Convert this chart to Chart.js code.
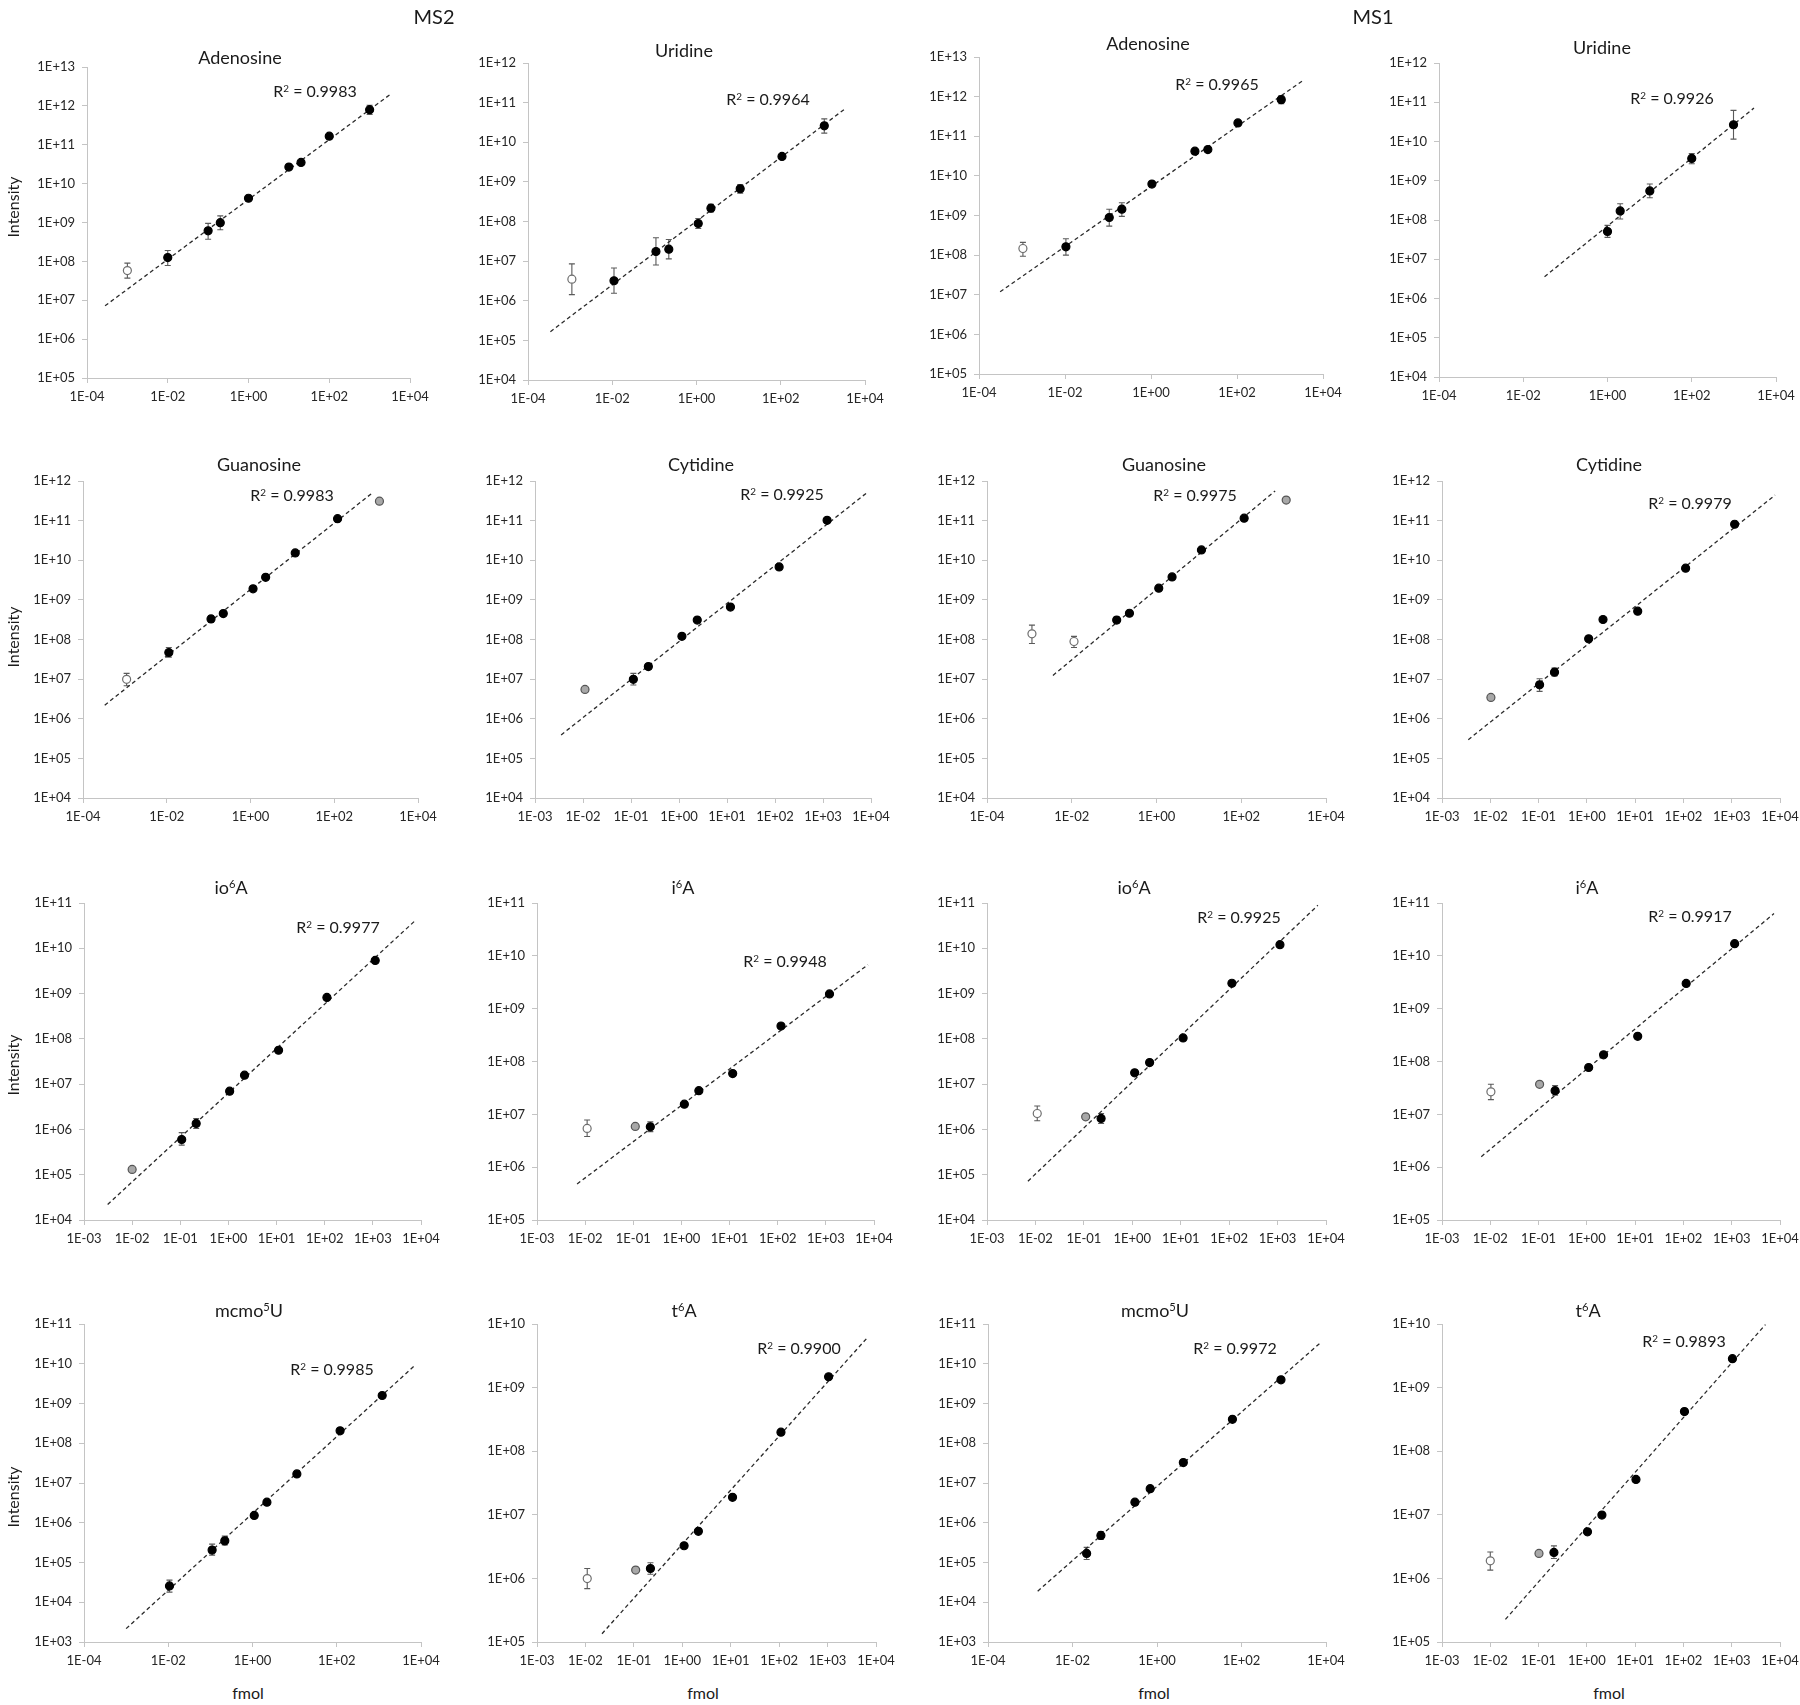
<!DOCTYPE html>
<html>
<head>
<meta charset="utf-8">
<script src="https://cdn.jsdelivr.net/npm/chart.js@4.4.1/dist/chart.umd.min.js"></script>
<style>
  body { margin: 0; background: #fff; }
  #page { position: relative; width: 1800px; height: 1705px; font-family: Lato, 'Open Sans', sans-serif; color: #1a1a1a; overflow: hidden; }
  canvas { position: absolute; }
  .txt { position: absolute; transform: translate(-50%, -50%); white-space: nowrap; line-height: 1; }
  .title { font-size: 18px; }
  .r2 { font-size: 16px; }
  .head { font-size: 20px; }
  .axt { font-size: 16px; }
  .ylab { transform: translate(-50%, -50%) rotate(-90deg); }
  sup { font-size: 0.62em; vertical-align: 0.55em; line-height: 0; }
</style>
</head>
<body>
<div id="page"></div>
<script>
  // パネル順: MS2 (左2列) / MS1 (右2列)、上から Adenosine/Uridine, Guanosine/Cytidine, io6A/i6A, mcmo5U/t6A
  const TITLES = [
    'Adenosine', 'Uridine', 'Adenosine', 'Uridine',
    'Guanosine', 'Cytidine', 'Guanosine', 'Cytidine',
    'io<sup>6</sup>A', 'i<sup>6</sup>A', 'io<sup>6</sup>A', 'i<sup>6</sup>A',
    'mcmo<sup>5</sup>U', 't<sup>6</sup>A', 'mcmo<sup>5</sup>U', 't<sup>6</sup>A',
  ];

  const R2 = [
    '0.9983', '0.9964', '0.9965', '0.9926',
    '0.9983', '0.9925', '0.9975', '0.9979',
    '0.9977', '0.9948', '0.9925', '0.9917',
    '0.9985', '0.9900', '0.9972', '0.9893',
  ];

  // 目盛り (10の累乗の指数と刻み)
  const X_TICK_EXP = [
    [-4, 4], [-4, 4], [-4, 4], [-4, 4],
    [-4, 4], [-3, 4], [-4, 4], [-3, 4],
    [-3, 4], [-3, 4], [-3, 4], [-3, 4],
    [-4, 4], [-3, 4], [-4, 4], [-3, 4],
  ];
  const X_TICK_STEP = [2, 2, 2, 2, 2, 1, 2, 1, 1, 1, 1, 1, 2, 1, 2, 1];
  const Y_TICK_EXP = [
    [5, 13], [4, 12], [5, 13], [4, 12],
    [4, 12], [4, 12], [4, 12], [4, 12],
    [4, 11], [5, 11], [4, 11], [5, 11],
    [3, 11], [5, 10], [3, 11], [5, 10],
  ];

  // fmol
  const FMOL = [
    [0.001, 0.01, 0.1, 0.2, 1, 10, 20, 100, 1000],
    [0.0011, 0.011, 0.109, 0.22, 1.1, 2.2, 10.9, 107, 1080],
    [0.00105, 0.0105, 0.107, 0.21, 1.05, 10.5, 21, 105, 1070],
    [1.0, 2.0, 10.1, 100, 980],
    [0.0011, 0.0112, 0.114, 0.224, 1.15, 2.3, 11.7, 120, 1200],
    [0.011, 0.112, 0.23, 1.15, 2.4, 11.8, 122, 1217],
    [0.00115, 0.0113, 0.115, 0.23, 1.13, 2.33, 11.5, 117, 1150],
    [0.0103, 0.105, 0.214, 1.09, 2.16, 11.3, 111, 1150],
    [0.01, 0.107, 0.214, 1.06, 2.16, 11, 111, 1120],
    [0.011, 0.11, 0.226, 1.15, 2.3, 11.6, 117, 1190],
    [0.0109, 0.109, 0.227, 1.12, 2.28, 11.2, 114, 1120],
    [0.0103, 0.105, 0.22, 1.09, 2.22, 11.3, 114, 1150],
    [0.0107, 0.11, 0.22, 1.1, 2.2, 11.3, 120, 1200],
    [0.0109, 0.109, 0.22, 1.09, 2.15, 10.9, 109, 1050],
    [0.0216, 0.047, 0.30, 0.69, 4.2, 61, 860],
    [0.01, 0.102, 0.208, 1.03, 2.05, 10.4, 105, 1035],
  ];

  // Intensity
  const INTENSITY = [
    [5.8e7, 1.25e8, 6.1e8, 9.9e8, 4.2e9, 2.66e10, 3.5e10, 1.66e11, 8.0e11],
    [3.5e6, 3.2e6, 1.75e7, 2.0e7, 8.9e7, 2.17e8, 6.7e8, 4.4e9, 2.6e10],
    [1.47e8, 1.62e8, 8.9e8, 1.44e9, 6.2e9, 4.2e10, 4.6e10, 2.17e11, 8.4e11],
    [5.1e7, 1.7e8, 5.5e8, 3.7e9, 2.67e10],
    [9.9e6, 4.7e7, 3.3e8, 4.5e8, 1.9e9, 3.7e9, 1.53e10, 1.12e11, 3.1e11],
    [5.5e6, 9.9e6, 2.07e7, 1.2e8, 3.1e8, 6.6e8, 6.8e9, 1.02e11],
    [1.39e8, 8.9e7, 3.1e8, 4.6e8, 1.97e9, 3.8e9, 1.82e10, 1.15e11, 3.3e11],
    [3.45e6, 7.2e6, 1.5e7, 1.04e8, 3.2e8, 5.2e8, 6.3e9, 8.1e10],
    [1.31e5, 6.0e5, 1.36e6, 7.0e6, 1.58e7, 5.6e7, 8.2e8, 5.4e9],
    [5.4e6, 5.9e6, 5.8e6, 1.56e7, 2.8e7, 5.9e7, 4.7e8, 1.9e9],
    [2.25e6, 1.9e6, 1.75e6, 1.78e7, 3.0e7, 1.05e8, 1.69e9, 1.2e10],
    [2.67e7, 3.7e7, 2.8e7, 7.7e7, 1.34e8, 3.0e8, 3.0e9, 1.7e10],
    [2.58e4, 2.05e5, 3.5e5, 1.53e6, 3.3e6, 1.69e7, 2.05e8, 1.59e9],
    [9.95e5, 1.35e6, 1.43e6, 3.26e6, 5.5e6, 1.88e7, 1.99e8, 1.48e9],
    [1.69e5, 4.8e5, 3.3e6, 7.2e6, 3.26e7, 4.0e8, 3.95e9],
    [1.89e6, 2.47e6, 2.56e6, 5.4e6, 9.9e6, 3.6e7, 4.2e8, 2.85e9],
  ];

  // エラーバー (下端 / 上端)、null はバーなし
  const ERR_LOW = [
    [3.7e7, 7.8e7, 3.7e8, 6.5e8, null, null, null, null, 6.0e11],
    [1.43e6, 1.55e6, 8e6, 1.14e7, 6.65e7, 1.75e8, 5.2e8, null, 1.7e10],
    [9.4e7, 1.0e8, 5.4e8, 9.5e8, null, null, null, null, 6.6e11],
    [3.6e7, 1.06e8, 3.7e8, 2.7e9, 1.15e10],
    [6.8e6, 3.6e7, 2.7e8, null, null, null, null, null, null],
    [null, 7.1e6, 1.75e7, null, null, null, null, null],
    [7.9e7, 6.3e7, 2.6e8, null, null, null, null, null, null],
    [null, 4.9e6, 1.2e7, null, null, null, null, null],
    [null, 4.5e5, 1.05e6, null, null, null, null, null],
    [3.8e6, null, 4.7e6, null, null, null, null, null],
    [1.55e6, null, 1.35e6, null, null, null, null, null],
    [1.9e7, null, 2.3e7, null, null, null, null, null],
    [1.8e4, 1.53e5, 2.75e5, null, null, null, null, null],
    [6.9e5, null, 1.16e6, null, null, null, null, null],
    [1.19e5, 3.8e5, null, null, null, null, null],
    [1.35e6, null, 2.05e6, null, null, null, null, null],
  ];
  const ERR_HIGH = [
    [9.0e7, 1.9e8, 9.5e8, 1.48e9, null, null, null, null, 1.04e12],
    [8.5e6, 6.7e6, 3.9e7, 3.5e7, 1.19e8, 2.7e8, 8.5e8, null, 3.9e10],
    [2.1e8, 2.6e8, 1.44e9, 2.1e9, null, null, null, null, 1.05e12],
    [7.3e7, 2.6e8, 8.3e8, 4.9e9, 6.2e10],
    [1.4e7, 6.3e7, 4.0e8, null, null, null, null, null, null],
    [null, 1.4e7, 2.4e7, null, null, null, null, null],
    [2.3e8, 1.2e8, 3.7e8, null, null, null, null, null, null],
    [null, 1.02e7, 1.9e7, null, null, null, null, null],
    [null, 8.5e5, 1.74e6, null, null, null, null, null],
    [7.8e6, null, 7.2e6, null, null, null, null, null],
    [3.3e6, null, 2.25e6, null, null, null, null, null],
    [3.7e7, null, 3.5e7, null, null, null, null, null],
    [3.6e4, 2.9e5, 4.6e5, null, null, null, null, null],
    [1.43e6, null, 1.76e6, null, null, null, null, null],
    [2.4e5, 6.0e5, null, null, null, null, null],
    [2.6e6, null, 3.25e6, null, null, null, null, null],
  ];

  // 点の種類: f = 黒塗り, o = 白抜き, g = 灰色 (近似から除外)
  const POINT_KIND = [
    'offffffff', 'offffffff', 'offffffff', 'fffff',
    'offfffffg', 'gfffffff', 'ooffffffg', 'gfffffff',
    'gfffffff', 'ogffffff', 'ogffffff', 'ogffffff',
    'ffffffff', 'ogffffff', 'fffffff', 'ogffffff',
  ];

  // 近似直線の両端
  const TREND_X = [
    [2.8e-4, 3200], [3.4e-4, 3550], [3.1e-4, 3700], [0.032, 3000],
    [3.3e-4, 810], [0.0035, 8100], [0.0036, 631], [0.0035, 7900],
    [0.0031, 7600], [0.0068, 7500], [0.007, 6800], [0.0065, 7500],
    [0.001, 7400], [0.022, 6500], [0.0015, 7200], [0.0206, 5000],
  ];
  const TREND_Y = [
    [7.2e6, 1.95e12], [1.66e5, 7.3e10], [1.19e7, 2.7e12], [3.6e6, 7.1e10],
    [2.2e6, 5.0e11], [3.9e5, 5.0e11], [1.24e7, 5.6e11], [2.96e5, 4.4e11],
    [2.2e4, 4.1e10], [4.8e5, 6.8e9], [7.2e4, 8.9e10], [1.58e6, 6.3e10],
    [2.17e3, 9.4e9], [1.35e5, 6.0e9], [1.9e4, 3.3e10], [2.27e5, 9.8e9],
  ];

  // レイアウト (プロット領域 left, top, right, bottom)
  const PLOT_BOX = [
    [87, 67, 410, 378], [528, 63, 865, 380], [979, 57, 1323, 374], [1439, 63, 1776, 377],
    [83, 481, 418, 798], [535, 481, 871, 798], [987, 481, 1326, 798], [1442, 481, 1780, 798],
    [84, 903, 421, 1220], [537, 903, 874, 1220], [987, 903, 1326, 1220], [1442, 903, 1780, 1220],
    [84, 1324, 421, 1642], [537, 1324, 876, 1642], [988, 1324, 1326, 1642], [1442, 1324, 1780, 1642],
  ];
  const TITLE_POS = [
    [240, 57], [684, 50], [1148, 43], [1602, 47],
    [259, 464], [701, 464], [1164, 464], [1609, 464],
    [231, 887], [683, 887], [1134, 887], [1587, 887],
    [249, 1310], [684, 1310], [1155, 1310], [1588, 1310],
  ];
  const R2_POS = [
    [315, 91], [768, 99], [1217, 84], [1672, 98],
    [292, 495], [782, 494], [1195, 495], [1690, 503],
    [338, 927], [785, 961], [1239, 917], [1690, 916],
    [332, 1369], [799, 1348], [1235, 1348], [1684, 1341],
  ];

  const AXIS_GRAY = '#c4c4c4';
  const TICK_FONT = { family: "Lato, 'Open Sans', sans-serif", size: 13 };
  const Y_AXIS_W = 80;
  const X_AXIS_H = 35;
  const PAD_TOP = 50;
  const PAD_RIGHT = 35;

  const page = document.getElementById('page');

  function addText(html, x, y, cls) {
    const d = document.createElement('div');
    d.className = 'txt ' + cls;
    d.innerHTML = html;
    d.style.left = x + 'px';
    d.style.top = y + 'px';
    page.appendChild(d);
  }

  function decades(range, step) {
    const out = [];
    for (let e = range[0]; e <= range[1]; e += step) out.push(Number('1e' + e));
    return out;
  }

  function sciLabel(v) {
    const e = Math.round(Math.log10(v));
    return '1E' + (e < 0 ? '-' : '+') + String(Math.abs(e)).padStart(2, '0');
  }

  // エラーバー
  const errorBars = {
    id: 'errorBars',
    beforeDatasetsDraw(chart, args, opts) {
      const { ctx, scales } = chart;
      ctx.save();
      ctx.strokeStyle = '#5a5a5a';
      ctx.lineWidth = 1.1;
      opts.x.forEach(function(xv, j) {
        if (opts.lo[j] == null) return;
        const px = scales.x.getPixelForValue(xv);
        const yLo = scales.y.getPixelForValue(opts.lo[j]);
        const yHi = scales.y.getPixelForValue(opts.hi[j]);
        ctx.beginPath();
        ctx.moveTo(px, yLo); ctx.lineTo(px, yHi);
        ctx.moveTo(px - 3, yLo); ctx.lineTo(px + 3, yLo);
        ctx.moveTo(px - 3, yHi); ctx.lineTo(px + 3, yHi);
        ctx.stroke();
      });
      ctx.restore();
    },
  };

  const FILL = { f: '#000000', o: '#ffffff', g: '#a8a8a8' };
  const EDGE = { f: '#000000', o: '#6e6e6e', g: '#555555' };

  TITLES.forEach(function(title, i) {
    const box = PLOT_BOX[i];
    const canvas = document.createElement('canvas');
    const w = (box[2] - box[0]) + Y_AXIS_W + PAD_RIGHT;
    const h = (box[3] - box[1]) + PAD_TOP + X_AXIS_H;
    canvas.width = w;
    canvas.height = h;
    canvas.style.left = (box[0] - Y_AXIS_W) + 'px';
    canvas.style.top = (box[1] - PAD_TOP) + 'px';
    page.appendChild(canvas);

    const kinds = POINT_KIND[i];
    const points = FMOL[i].map(function(xv, j) { return { x: xv, y: INTENSITY[i][j] }; });
    const trend = TREND_X[i].map(function(xv, j) { return { x: xv, y: TREND_Y[i][j] }; });
    const xr = X_TICK_EXP[i];
    const yr = Y_TICK_EXP[i];
    const xs = X_TICK_STEP[i];

    new Chart(canvas, {
      type: 'scatter',
      data: {
        datasets: [
          {
            data: points,
            pointRadius: 4,
            pointBackgroundColor: function(c) { return FILL[kinds[c.dataIndex]]; },
            pointBorderColor: function(c) { return EDGE[kinds[c.dataIndex]]; },
            pointBorderWidth: 1.2,
          },
          {
            data: trend,
            showLine: true,
            borderColor: '#2a2a2a',
            borderWidth: 1.3,
            borderDash: [4, 3],
            pointRadius: 0,
          },
        ],
      },
      options: {
        responsive: false,
        animation: false,
        events: [],
        layout: { padding: { left: 0, top: PAD_TOP, right: PAD_RIGHT, bottom: 0 } },
        plugins: {
          legend: { display: false },
          tooltip: { enabled: false },
          errorBars: { x: FMOL[i], lo: ERR_LOW[i], hi: ERR_HIGH[i] },
        },
        scales: {
          x: {
            type: 'logarithmic',
            min: Number('1e' + xr[0]),
            max: Number('1e' + xr[1]),
            afterBuildTicks: function(s) { s.ticks = decades(xr, xs).map(function(v) { return { value: v }; }); },
            afterFit: function(s) { s.height = X_AXIS_H; },
            ticks: { callback: sciLabel, font: TICK_FONT, color: '#262626', padding: 6, maxRotation: 0, autoSkip: false },
            grid: { drawOnChartArea: false, tickLength: 5, color: AXIS_GRAY },
            border: { color: AXIS_GRAY },
          },
          y: {
            type: 'logarithmic',
            min: Number('1e' + yr[0]),
            max: Number('1e' + yr[1]),
            afterBuildTicks: function(s) { s.ticks = decades(yr, 1).map(function(v) { return { value: v }; }); },
            afterFit: function(s) { s.width = Y_AXIS_W; },
            ticks: { callback: sciLabel, font: TICK_FONT, color: '#262626', padding: 7, autoSkip: false },
            grid: { drawOnChartArea: false, tickLength: 5, color: AXIS_GRAY },
            border: { color: AXIS_GRAY },
          },
        },
      },
      plugins: [errorBars],
    });

    addText(title, TITLE_POS[i][0], TITLE_POS[i][1], 'title');
    addText('R<sup>2</sup> = ' + R2[i], R2_POS[i][0], R2_POS[i][1], 'r2');
  });

  // 見出し・軸タイトル
  addText('MS2', 434, 16, 'head');
  addText('MS1', 1373, 16, 'head');
  [207, 637, 1065, 1497].forEach(function(y) { addText('Intensity', 13, y, 'axt ylab'); });
  [248, 703, 1154, 1609].forEach(function(x) { addText('fmol', x, 1693, 'axt'); });
</script>
</body>
</html>
